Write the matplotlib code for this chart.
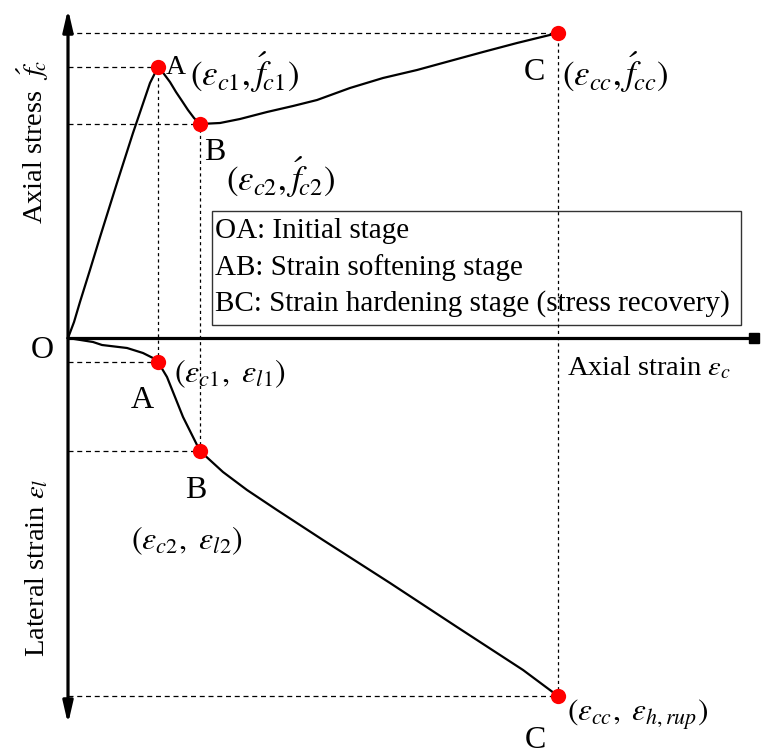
import matplotlib
matplotlib.use("Agg")
import matplotlib.pyplot as plt
from matplotlib.patches import Rectangle

plt.rcParams["font.family"] = ["Liberation Serif", "DejaVu Serif"]
plt.rcParams["mathtext.fontset"] = "stix"

# Key points of the schematic (normalised strain / stress units)
eps_pts = [1.0, 1.467, 5.444]          # eps_c1, eps_c2, eps_cc
stress_pts = [2.71, 2.14, 3.05]        # f'_c1, f'_c2, f'_cc
lateral_pts = [-0.24, -1.13, -3.58]    # eps_l1, eps_l2, eps_h,rup

# Axial stress - axial strain curve
axial_x = [0, 0.067, 0.133, 0.244, 0.356, 0.544, 0.722, 0.911, 1.0,
           1.067, 1.133, 1.2, 1.267, 1.333, 1.4, 1.467,
           1.689, 1.911, 2.211, 2.5, 2.767, 3.133, 3.5, 3.878,
           4.244, 4.611, 4.989, 5.444]
axial_y = [0, 0.16, 0.36, 0.68, 1.01, 1.55, 2.05, 2.55, 2.71,
           2.64, 2.56, 2.46, 2.37, 2.28, 2.20, 2.14,
           2.15, 2.19, 2.26, 2.32, 2.38, 2.50, 2.60, 2.68,
           2.77, 2.86, 2.95, 3.05]

# Lateral strain - axial strain curve
lat_x = [0, 0.278, 0.378, 0.656, 0.833, 0.944, 1.0,
         1.1, 1.189, 1.278, 1.389, 1.467,
         1.722, 1.989, 2.322, 2.833, 3.578, 4.322, 5.056, 5.444]
lat_y = [0, -0.04, -0.07, -0.10, -0.15, -0.20, -0.24,
         -0.39, -0.59, -0.79, -0.99, -1.13,
         -1.34, -1.52, -1.72, -2.02, -2.45, -2.89, -3.32, -3.58]

stage_notes = ["OA: Initial stage",
               "AB: Strain softening stage",
               "BC: Strain hardening stage (stress recovery)"]

fig = plt.figure(figsize=(7.61, 7.55), dpi=100)
ax = fig.add_axes([0, 0, 1, 1])
ax.set_xlim(-0.7556, 7.7)
ax.set_ylim(-4.17, 3.38)
ax.axis("off")

# axes with arrows
arrow_kw = dict(arrowstyle="-|>,head_width=0.3,head_length=1.3",
                lw=2.3, color="black", mutation_scale=10, shrinkA=0, shrinkB=0)
ax.annotate("", xy=(0, 3.29), xytext=(0, 0), arrowprops=arrow_kw)
ax.annotate("", xy=(0, -3.86), xytext=(0, 0), arrowprops=arrow_kw)
ax.plot([0, 7.6], [0, 0], color="black", lw=2.3, solid_capstyle="butt")
ax.plot([7.62], [0], "s", color="black", ms=7)

# guide lines
hdash = (0, (4, 3))
vdash = (0, (2.5, 2.5))
for xp, sp, lp in zip(eps_pts, stress_pts, lateral_pts):
    ax.plot([0, xp], [sp, sp], color="black", lw=0.9, ls=hdash)
    ax.plot([0, xp], [lp, lp], color="black", lw=0.9, ls=hdash)
    ax.plot([xp, xp], [lp, sp], color="black", lw=0.9, ls=vdash)

# curves
ax.plot(axial_x, axial_y, color="black", lw=1.6, solid_joinstyle="round")
ax.plot(lat_x, lat_y, color="black", lw=1.6, solid_joinstyle="round")

# characteristic points
ax.plot(eps_pts, stress_pts, "o", color="#ff0000", ms=11, mec="none")
ax.plot(eps_pts, lateral_pts, "o", color="#ff0000", ms=11, mec="none")


def px(x, y):
    """figure pixel position -> data coordinates"""
    return (x - 68) / 90.0, (338 - y) / 100.0


def label(x, y, s, size, ha="left", va="center", **kw):
    dx, dy = px(x, y)
    ax.text(dx, dy, s, fontsize=size, ha=ha, va=va, **kw)


# point labels, upper branch
label(166, 68, "A", 20)
label(190, 72, r"$(\varepsilon_{\mathit{c1}},\acute{f}_{\!\mathit{c1}})$", 25)
label(204, 153, "B", 23)
label(226, 177, r"$(\varepsilon_{\mathit{c2}},\acute{f}_{\!\mathit{c2}})$", 25)
label(524, 73, "C", 23)
label(562, 72, r"$(\varepsilon_{\mathit{cc}},\acute{f}_{\!\mathit{cc}})$", 25)

# point labels, lower branch
label(42, 350, "O", 23, ha="center")
label(174, 374, r"$(\varepsilon_{\mathit{c1}},\ \varepsilon_{\mathit{l1}})$", 23)
label(142, 401, "A", 23, ha="center")
label(196, 491, "B", 23, ha="center")
label(131, 541, r"$(\varepsilon_{\mathit{c2}},\ \varepsilon_{\mathit{l2}})$", 23)
label(567, 715, r"$(\varepsilon_{\mathit{cc}},\ \varepsilon_{\mathit{h,rup}})$", 22.5)
label(535, 740, "C", 23, ha="center")

# axis titles
label(567, 368, r"Axial strain $\varepsilon_{\mathit{c}}$", 20.5)
label(33, 142, r"Axial stress  $\acute{f}_{\!\mathit{c}}$", 20.5, ha="center",
      rotation=90)
label(37, 568, r"Lateral strain $\varepsilon_{\mathit{l}}$", 20.5, ha="center",
      rotation=90)

# stage description box
x0, y0 = px(212, 325)
x1, y1 = px(741, 211)
ax.add_patch(Rectangle((x0, y0), x1 - x0, y1 - y0, fill=False,
                       edgecolor="#333333", lw=1.0))
for i, note in enumerate(stage_notes):
    label(215, 231 + 36.5 * i, note, 21)

fig.savefig("out.png", dpi=100)
